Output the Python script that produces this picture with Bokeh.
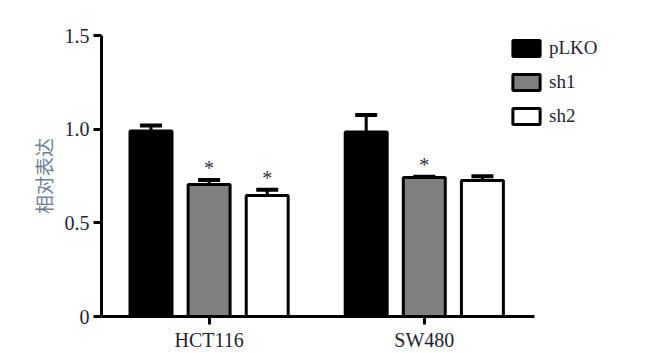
from bokeh.plotting import figure
from bokeh.models import Whisker, TeeHead, ColumnDataSource, FixedTicker, Legend, LegendItem, Range1d
from bokeh.transform import dodge
from bokeh.core.properties import value
from bokeh.embed import file_html
from bokeh.resources import INLINE

cells = ["HCT116", "SW480"]
series = ["pLKO", "sh1", "sh2"]
pLKO = [0.99, 0.985]
sh1 = [0.705, 0.742]
sh2 = [0.646, 0.726]
pLKO_err = [0.03, 0.09]
sh1_err = [0.023, 0.004]
sh2_err = [0.03, 0.023]
sh1_sig = ["*", "*"]
sh2_sig = ["*", ""]
pLKO_sig = ["", ""]

fills = ["#000000", "#808080", "#ffffff"]
offsets = [-0.27, 0.0, 0.27]

SERIF = "Liberation Serif"
TXT = "#1f1f33"

pos = [i + 0.5 for i in range(len(cells))]

p = figure(x_range=Range1d(0, 2.5), y_range=(0, 1.5),
           width=647, height=353, output_backend="svg", toolbar_location=None,
           min_border_left=101, min_border_right=8, min_border_top=35, min_border_bottom=33)

vals = [pLKO, sh1, sh2]
errs = [pLKO_err, sh1_err, sh2_err]
sigs = [pLKO_sig, sh1_sig, sh2_sig]
items = []
for name, v, e, s, fc, off in zip(series, vals, errs, sigs, fills, offsets):
    src = ColumnDataSource(dict(pos=pos, val=v, upper=[a + b for a, b in zip(v, e)],
                                sig=s, sig_y=[a + b + 0.065 for a, b in zip(v, e)]))
    r = p.vbar(x=dodge("pos", off), top="val", width=0.195, source=src,
               fill_color=fc, line_color="black", line_width=3)
    w = Whisker(base=dodge("pos", off), upper="upper", lower="val", source=src,
                line_color="black", line_width=3,
                upper_head=TeeHead(size=22, line_width=4, line_color="black"), lower_head=None)
    p.add_layout(w)
    p.text(x=dodge("pos", off), y="sig_y", text="sig", source=src,
           text_font=value(SERIF), text_font_size="20px", text_align="center",
           text_baseline="middle", text_color="#333344")
    items.append(LegendItem(label=name, renderers=[r]))

legend = Legend(items=items, location=(408, 189), glyph_width=34, glyph_height=20, spacing=12,
                label_standoff=6, padding=0, margin=0, border_line_alpha=0,
                background_fill_alpha=0, label_text_font=SERIF, label_text_font_size="19px",
                label_text_color=TXT, label_height=20)
p.add_layout(legend, "center")

p.xgrid.visible = False
p.ygrid.visible = False
p.outline_line_color = None

p.yaxis.ticker = FixedTicker(ticks=[0, 0.5, 1.0, 1.5])
p.yaxis.major_label_overrides = {0: "0", 0.5: "0.5", 1: "1.0", 1.5: "1.5"}
p.yaxis.minor_tick_line_color = None
p.yaxis.major_tick_out = 8
p.yaxis.major_tick_in = 0
p.yaxis.axis_line_width = 3
p.yaxis.major_tick_line_width = 3
p.yaxis.major_label_text_font = SERIF
p.yaxis.major_label_text_font_size = "20px"
p.yaxis.major_label_text_color = TXT
p.yaxis.major_label_standoff = 4
p.yaxis.axis_label = "相对表达"
p.yaxis.axis_label_text_font = "Noto Sans CJK SC"
p.yaxis.axis_label_text_font_style = "normal"
p.yaxis.axis_label_text_font_size = "19px"
p.yaxis.axis_label_text_color = "#70808f"
p.yaxis.axis_label_standoff = 5

p.xaxis.ticker = FixedTicker(ticks=pos, minor_ticks=[])
p.xaxis.major_label_overrides = {x: c for x, c in zip(pos, cells)}
p.xaxis.bounds = (0, 2.01)
p.xaxis.axis_line_width = 3
p.xaxis.major_tick_line_width = 3
p.xaxis.major_tick_out = 8
p.xaxis.major_tick_in = 0
p.xaxis.minor_tick_line_color = None
p.xaxis.major_label_text_font = SERIF
p.xaxis.major_label_text_font_size = "20px"
p.xaxis.major_label_text_color = TXT
p.xaxis.major_label_standoff = 4

open("out.html", "w").write(file_html(p, INLINE))
